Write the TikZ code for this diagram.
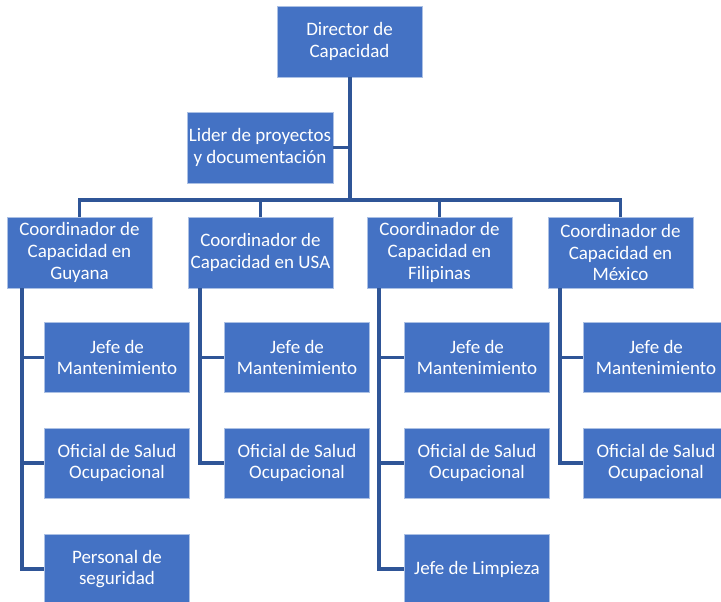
\documentclass[tikz,border=0pt]{standalone}
\usepackage{fontspec}
\setmainfont{Carlito}
\definecolor{boxblue}{HTML}{4472C4}
\definecolor{linkblue}{HTML}{2F5597}
\tikzset{
  orgbox/.style={rectangle, fill=boxblue, draw=white!55!boxblue, line width=0.8pt,
    minimum width=145pt, minimum height=71pt, inner sep=0pt, align=center,
    text=white, font=\fontsize{19}{21.7}\selectfont},
  subbox/.style={orgbox, minimum height=70pt},
  link/.style={draw=linkblue, line width=3.2pt},
}
\begin{document}
\begin{tikzpicture}[x=1pt, y=-1pt]
\useasboundingbox (0,0) rectangle (721,602);

% top levels
\node[orgbox] (dir) at (349.5,41.5) {Director de\\Capacidad};
\node[orgbox, minimum width=146pt] (lider) at (260,147.5) {Lider de proyectos\\y documentación};

% coordinators
\node[orgbox] (guy) at (79.5,252.5) {Coordinador de\\Capacidad en\\Guyana};
\node[orgbox] (usa) at (260.5,252.5) {Coordinador de\\Capacidad en USA};
\node[orgbox] (fil) at (439.5,252.5) {Coordinador de\\Capacidad en\\Filipinas};
\node[orgbox] (mex) at (620.5,252.5) {Coordinador de\\Capacidad en\\México};

% Guyana staff
\node[subbox] (g1) at (117,357.5) {Jefe de\\Mantenimiento};
\node[subbox] (g2) at (117,463) {Oficial de Salud\\Ocupacional};
\node[subbox] (g3) at (117,569) {Personal de\\seguridad};

% USA staff
\node[subbox] (u1) at (297,357.5) {Jefe de\\Mantenimiento};
\node[subbox] (u2) at (297,463) {Oficial de Salud\\Ocupacional};

% Filipinas staff
\node[subbox] (f1) at (477,357.5) {Jefe de\\Mantenimiento};
\node[subbox] (f2) at (477,463) {Oficial de Salud\\Ocupacional};
\node[subbox] (f3) at (477,569) {Jefe de Limpieza};

% México staff
\node[subbox] (m1) at (656,357.5) {Jefe de\\Mantenimiento};
\node[subbox] (m2) at (656,463) {Oficial de Salud\\Ocupacional};

% bus and spine coordinates
\coordinate (busL) at (79.5,200);
\coordinate (busR) at (620.5,200);
\coordinate (busM) at (350,200);
\coordinate (liderJ) at (350,147.5);

% director spine and assistant
\path[link] (dir.south -| busM) -- (busM);
\path[link] (lider.east) -- (liderJ);
\path[link, line cap=rect] (busL) -- (busR);
\foreach \c in {guy,usa,fil,mex}
  \path[link] (\c.north) -- (\c.north |- busM);

% staff trunks
\coordinate (gx) at (22,0);
\coordinate (ux) at (200,0);
\coordinate (fx) at (379,0);
\coordinate (mx) at (560,0);
\path[link] (guy.south -| gx) -- (gx |- g3) -- (g3.west);
\path[link] (gx |- g1) -- (g1.west);
\path[link] (gx |- g2) -- (g2.west);
\path[link] (usa.south -| ux) -- (ux |- u2) -- (u2.west);
\path[link] (ux |- u1) -- (u1.west);
\path[link] (fil.south -| fx) -- (fx |- f3) -- (f3.west);
\path[link] (fx |- f1) -- (f1.west);
\path[link] (fx |- f2) -- (f2.west);
\path[link] (mex.south -| mx) -- (mx |- m2) -- (m2.west);
\path[link] (mx |- m1) -- (m1.west);
\end{tikzpicture}
\end{document}
